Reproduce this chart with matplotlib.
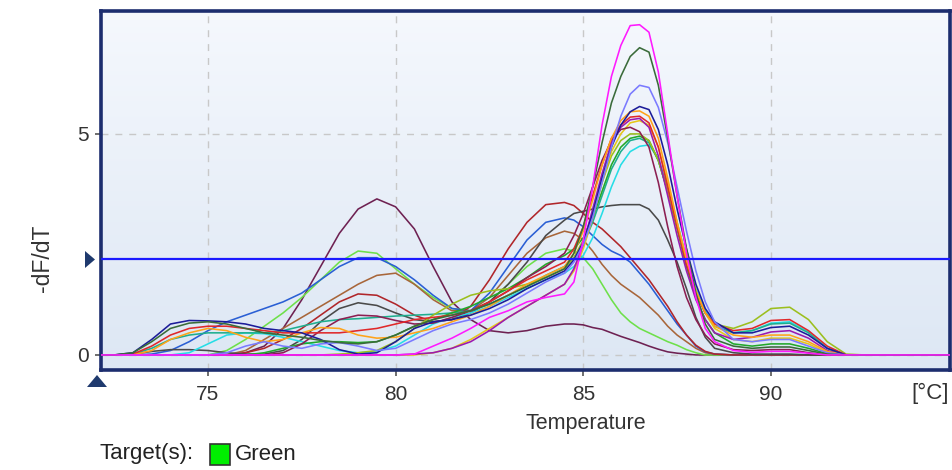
import numpy as np
import matplotlib
matplotlib.use("Agg")
import matplotlib.pyplot as plt
from matplotlib.patches import Rectangle, Polygon

plt.rcParams['font.family'] = ['Liberation Sans', 'DejaVu Sans']

# temperature grid (°C); finer steps across the main melt peak
temps = [72.5, 73, 73.5, 74, 74.5, 75, 75.5, 76, 76.5, 77, 77.5, 78, 78.5,
         79, 79.5, 80, 80.5, 81, 81.5, 82, 82.5, 83, 83.5, 84, 84.5,
         84.75, 85, 85.25, 85.5, 85.75, 86, 86.25, 86.5, 86.75, 87, 87.25,
         87.5, 87.75, 88, 88.25, 88.5,
         89, 89.5, 90, 90.5, 91, 91.5, 92, 92.5]

# -dF/dT per well
magenta = [0, 0, 0, 0, 0, 0, 0, 0, 0, 0, 0, 0, 0, 0, 0, 0, 0.02, 0.2, 0.38, 0.6, 0.85, 1.0, 1.2, 1.3, 1.38,
           1.65, 2.6, 3.8, 5.2, 6.3, 7.0, 7.45, 7.47, 7.3, 6.4, 5.0, 3.6, 2.3, 1.3, 0.6, 0.3,
           0.1, 0.06, 0.08, 0.08, 0.04, 0, 0, 0]
dark_green = [0, 0.05, 0.3, 0.6, 0.72, 0.75, 0.7, 0.6, 0.5, 0.45, 0.4, 0.33, 0.28, 0.25, 0.3, 0.45, 0.65, 0.8, 0.9, 1.0, 1.15, 1.35, 1.55, 1.75, 1.95,
              2.3, 2.9, 3.8, 4.8, 5.7, 6.3, 6.75, 6.95, 6.85, 6.1, 4.9, 3.6, 2.4, 1.4, 0.7, 0.35,
              0.2, 0.15, 0.18, 0.18, 0.1, 0.02, 0, 0]
periwinkle = [0, 0, 0, 0, 0, 0, 0.05, 0.2, 0.3, 0.2, 0.15, 0.25, 0.28, 0.2, 0.1, 0.15, 0.35, 0.55, 0.7, 0.8, 0.95, 1.15, 1.4, 1.65, 1.85,
              2.1, 2.5, 3.1, 3.9, 4.7, 5.4, 5.9, 6.1, 6.05, 5.6, 4.8, 3.8, 2.8, 1.9, 1.2, 0.75,
              0.35, 0.3, 0.35, 0.35, 0.2, 0.05, 0, 0]
navy = [0, 0.05, 0.35, 0.7, 0.78, 0.77, 0.75, 0.7, 0.6, 0.55, 0.5, 0.35, 0.12, 0.02, 0.05, 0.3, 0.6, 0.75, 0.8, 0.9, 1.05, 1.25, 1.5, 1.7, 1.9,
        2.15, 2.55, 3.2, 4.0, 4.7, 5.2, 5.5, 5.62, 5.55, 5.1, 4.3, 3.3, 2.4, 1.6, 1.05, 0.75,
        0.5, 0.5, 0.62, 0.65, 0.45, 0.15, 0, 0]
orange = [0, 0, 0.1, 0.35, 0.5, 0.6, 0.55, 0.4, 0.3, 0.35, 0.5, 0.62, 0.6, 0.45, 0.38, 0.4, 0.5, 0.6, 0.75, 0.9, 1.1, 1.35, 1.6, 1.8, 2.0,
          2.3, 2.8, 3.5, 4.3, 4.9, 5.3, 5.5, 5.52, 5.4, 4.9, 4.0, 3.0, 2.15, 1.45, 0.95, 0.65,
          0.45, 0.4, 0.45, 0.45, 0.3, 0.08, 0, 0]
red = [0, 0.02, 0.2, 0.45, 0.6, 0.65, 0.65, 0.6, 0.55, 0.5, 0.5, 0.5, 0.5, 0.55, 0.6, 0.7, 0.8, 0.85, 0.9, 1.0, 1.2, 1.45, 1.7, 1.9, 2.1,
       2.4, 2.9, 3.6, 4.3, 4.9, 5.2, 5.38, 5.4, 5.25, 4.7, 3.8, 2.9, 2.05, 1.4, 0.95, 0.7,
       0.55, 0.6, 0.78, 0.8, 0.55, 0.2, 0, 0]
purple = [0, 0, 0, 0, 0, 0, 0, 0, 0, 0, 0, 0, 0, 0, 0, 0, 0.02, 0.05, 0.15, 0.3, 0.55, 0.85, 1.1, 1.35, 1.6,
          1.95, 2.5, 3.3, 4.1, 4.8, 5.15, 5.32, 5.35, 5.15, 4.5, 3.6, 2.7, 1.9, 1.25, 0.8, 0.5,
          0.35, 0.4, 0.52, 0.55, 0.38, 0.1, 0, 0]
maroon = [0, 0, 0, 0, 0, 0, 0, 0, 0, 0.05, 0.25, 0.55, 0.8, 0.9, 0.88, 0.78, 0.7, 0.72, 0.85, 1.0, 1.2, 1.45, 1.75, 2.0, 2.3,
          2.7, 3.2, 3.8, 4.4, 4.85, 5.1, 5.15, 5.05, 4.7, 3.9, 2.9, 2.0, 1.3, 0.8, 0.45, 0.25,
          0.12, 0.1, 0.12, 0.12, 0.05, 0, 0, 0]
olive = [0, 0, 0, 0, 0, 0, 0, 0, 0, 0, 0, 0, 0.02, 0.05, 0.1, 0.3, 0.6, 0.9, 1.15, 1.35, 1.45, 1.5, 1.6, 1.75, 1.95,
         2.2, 2.6, 3.2, 3.9, 4.5, 4.85, 5.0, 5.0, 4.85, 4.4, 3.7, 2.9, 2.1, 1.45, 0.95, 0.7,
         0.6, 0.75, 1.05, 1.08, 0.8, 0.3, 0.02, 0]
green = [0, 0, 0, 0, 0, 0, 0, 0, 0.05, 0.15, 0.25, 0.3, 0.3, 0.28, 0.3, 0.45, 0.65, 0.8, 0.95, 1.1, 1.3, 1.5, 1.75, 2.05, 2.25,
         2.4, 2.65, 3.1, 3.7, 4.3, 4.7, 4.9, 4.95, 4.85, 4.4, 3.7, 2.85, 2.0, 1.3, 0.8, 0.5,
         0.25, 0.2, 0.25, 0.25, 0.15, 0.03, 0, 0]
teal = [0, 0.02, 0.15, 0.35, 0.45, 0.5, 0.5, 0.5, 0.5, 0.55, 0.65, 0.75, 0.8, 0.82, 0.85, 0.88, 0.9, 0.92, 0.95, 1.0, 1.15, 1.35, 1.55, 1.8, 2.0,
        2.2, 2.5, 3.0, 3.6, 4.2, 4.6, 4.85, 4.9, 4.8, 4.4, 3.7, 2.9, 2.1, 1.4, 0.95, 0.65,
        0.5, 0.55, 0.7, 0.72, 0.5, 0.15, 0, 0]
cyan = [0, 0, 0, 0, 0.05, 0.25, 0.45, 0.5, 0.48, 0.4, 0.3, 0.2, 0.1, 0.05, 0.08, 0.2, 0.45, 0.7, 0.85, 0.95, 1.1, 1.3, 1.5, 1.7, 1.85,
        2.0, 2.25, 2.65, 3.2, 3.8, 4.3, 4.6, 4.72, 4.75, 4.45, 3.8, 3.0, 2.2, 1.5, 1.0, 0.7,
        0.5, 0.55, 0.72, 0.75, 0.52, 0.15, 0, 0]
gold = [0, 0, 0, 0, 0, 0, 0, 0, 0, 0, 0, 0, 0, 0, 0, 0, 0, 0.05, 0.15, 0.35, 0.6, 0.85, 1.1, 1.35, 1.6,
        1.9, 2.4, 3.1, 3.9, 4.6, 5.0, 5.25, 5.3, 5.2, 4.7, 3.9, 3.0, 2.15, 1.45, 0.95, 0.6,
        0.35, 0.3, 0.38, 0.38, 0.25, 0.05, 0, 0]
dark_gray = [0, 0.02, 0.08, 0.12, 0.12, 0.1, 0.05, 0.02, 0.02, 0.1, 0.35, 0.75, 1.05, 1.18, 1.12, 0.95, 0.8, 0.75, 0.8, 0.95, 1.2, 1.6, 2.1, 2.7, 3.05,
             3.2, 3.25, 3.3, 3.35, 3.38, 3.4, 3.4, 3.4, 3.3, 3.05, 2.6, 2.1, 1.5, 0.85, 0.4, 0.15,
             0.05, 0.02, 0.02, 0.02, 0, 0, 0, 0]
brick = [0, 0, 0, 0, 0, 0, 0, 0.05, 0.15, 0.35, 0.6, 0.9, 1.2, 1.38, 1.35, 1.15, 0.9, 0.75, 0.8, 1.1, 1.7, 2.4, 3.0, 3.4, 3.45,
         3.38, 3.2, 3.0, 2.85, 2.65, 2.45, 2.2, 1.95, 1.7, 1.4, 1.1, 0.75, 0.45, 0.22, 0.08, 0.02,
         0, 0, 0, 0, 0, 0, 0, 0]
royal_blue = [0, 0, 0.02, 0.1, 0.3, 0.55, 0.75, 0.9, 1.05, 1.2, 1.4, 1.7, 2.0, 2.2, 2.2, 2.0, 1.7, 1.35, 1.05, 1.0, 1.4, 2.0, 2.6, 3.0, 3.1,
              3.05, 2.9, 2.7, 2.5, 2.35, 2.25, 2.1, 1.85, 1.6, 1.3, 1.0, 0.7, 0.45, 0.2, 0.07, 0.02,
              0, 0, 0, 0, 0, 0, 0, 0]
brown = [0, 0, 0, 0, 0, 0, 0, 0.1, 0.35, 0.6, 0.85, 1.1, 1.35, 1.6, 1.8, 1.85, 1.6, 1.25, 1.0, 1.0, 1.3, 1.8, 2.3, 2.65, 2.8,
         2.75, 2.6, 2.35, 2.05, 1.8, 1.6, 1.45, 1.3, 1.1, 0.9, 0.65, 0.45, 0.3, 0.15, 0.05, 0.02,
         0, 0, 0, 0, 0, 0, 0, 0]
light_green = [0, 0, 0, 0, 0, 0, 0.1, 0.35, 0.65, 0.95, 1.3, 1.7, 2.1, 2.35, 2.3, 1.95, 1.6, 1.3, 1.05, 1.0, 1.2, 1.6, 2.0, 2.3, 2.4,
               2.35, 2.2, 1.95, 1.6, 1.25, 0.95, 0.75, 0.6, 0.5, 0.4, 0.3, 0.22, 0.12, 0.05, 0, 0,
               0, 0, 0, 0, 0, 0, 0, 0]
plum = [0, 0, 0, 0, 0, 0, 0, 0.05, 0.2, 0.6, 1.25, 2.0, 2.75, 3.3, 3.53, 3.35, 2.85, 2.0, 1.2, 0.8, 0.55, 0.5, 0.55, 0.65, 0.7,
        0.7, 0.68, 0.62, 0.58, 0.5, 0.42, 0.35, 0.28, 0.2, 0.13, 0.07, 0.04, 0.02, 0, 0, 0,
        0, 0, 0, 0, 0, 0, 0, 0]

wells = [
    (plum, '#6e2152'), (light_green, '#6ee04a'), (brown, '#a8663a'),
    (royal_blue, '#2a5fd4'), (brick, '#b0262a'), (dark_gray, '#4a4a4a'),
    (cyan, '#26dde6'), (teal, '#1fae8e'), (green, '#22a82a'),
    (olive, '#9cbf1e'), (gold, '#e6c71a'), (maroon, '#8c1f52'),
    (purple, '#9b19b0'), (red, '#e0282a'), (orange, '#ffa31a'),
    (navy, '#1c1c99'), (periwinkle, '#7a7aff'), (dark_green, '#3a6b3a'),
    (magenta, '#ff1aff'),
]

threshold = 2.17
xticks = [75, 80, 85, 90]
yticks = [0, 5]

W, H = 953, 470
fig = plt.figure(figsize=(W / 100, H / 100), dpi=100)
ax = fig.add_axes([0.106, 0.2128, 0.8908, 0.7638])
xmin, xmax, ymin, ymax = 72.15, 94.77, -0.34, 7.78


def px(x, y):
    # pixel position (from top-left) -> figure fraction
    return (x / W, 1 - y / H)


# soft vertical gradient behind the curves
grad = np.linspace(0, 1, 256).reshape(-1, 1)
cmap = matplotlib.colors.LinearSegmentedColormap.from_list('bg', ['#dde7f4', '#f5f8fd'])
ax.imshow(grad, extent=[xmin, xmax, ymin, ymax], origin='lower', aspect='auto',
          cmap=cmap, zorder=0)

for v in xticks:
    ax.axvline(v, color='#c8c8c8', lw=1.0, ls=(0, (5, 5)), zorder=1)
for v in yticks:
    ax.axhline(v, color='#c8c8c8', lw=1.0, ls=(0, (5, 5)), zorder=1)

# curves sit on the baseline outside the scanned range
t = np.r_[xmin, temps, xmax]
for vals, col in wells:
    y = np.r_[0, vals, 0]
    ax.plot(t, y, color=col, lw=1.15, zorder=3, solid_joinstyle='round')

ax.axhline(threshold, color='#1a1aff', lw=1.6, zorder=4)

ax.set_xlim(xmin, xmax)
ax.set_ylim(ymin, ymax)
ax.set_xticks(xticks)
ax.set_yticks(yticks)
ax.tick_params(axis='both', labelsize=15, colors='#555555', length=4, width=1.2,
               labelcolor='#333333', pad=5)
ax.tick_params(axis='x', pad=7)
for sp in ax.spines.values():
    sp.set_color('#1c2d6e')
    sp.set_linewidth(2.6)

fig.text(*px(930, 393), '[°C]', fontsize=16, color='#333333',
         ha='center', va='center')
fig.text(*px(586, 423), 'Temperature', fontsize=15.5, color='#333333',
         ha='center', va='center')
fig.text(*px(42, 258), '-dF/dT', fontsize=16.5, color='#333333',
         ha='center', va='center', rotation=90)

# threshold / range markers
fig.patches.append(Polygon([px(85, 251), px(85, 268), px(95, 259.5)], closed=True,
                           transform=fig.transFigure, facecolor='#1f3a6e',
                           edgecolor='none'))
fig.patches.append(Polygon([px(87, 387), px(107, 387), px(97, 375)], closed=True,
                           transform=fig.transFigure, facecolor='#1f3a6e',
                           edgecolor='none'))

# target legend
fig.text(*px(100, 454), 'Target(s):', fontsize=16, color='#222222',
         ha='left', va='center')
fig.patches.append(Rectangle(px(210, 465), 20 / W, 21 / H,
                             transform=fig.transFigure, facecolor='#00ee00',
                             edgecolor='#333333', lw=1.2))
fig.text(*px(235, 454), 'Green', fontsize=16, color='#222222',
         ha='left', va='center')

fig.savefig('out.png', dpi=100)
